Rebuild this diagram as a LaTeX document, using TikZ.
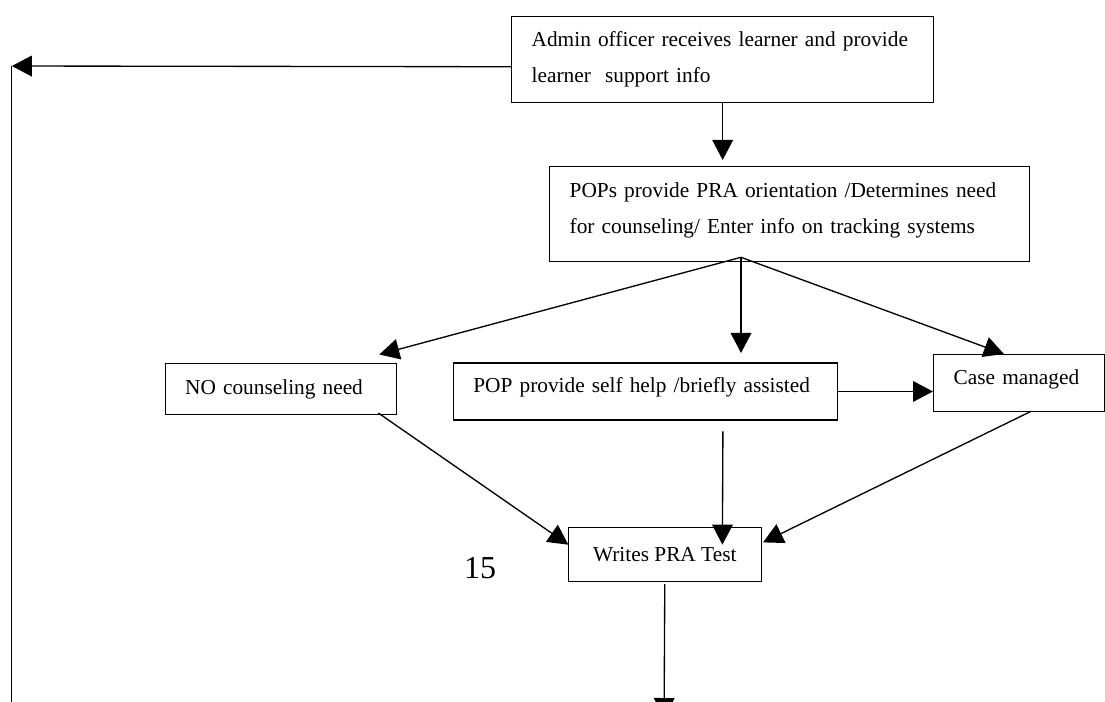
\documentclass[tikz,border=0pt]{standalone}
\usepackage{fontspec}
\setmainfont{Liberation Serif}
\usetikzlibrary{arrows.meta}
\begin{document}
\begin{tikzpicture}[x=0.75pt,y=-0.75pt,
  box/.style={draw, line width=1pt, align=left, inner xsep=15pt, inner ysep=3pt,
    anchor=north west, font=\fontsize{16}{27}\selectfont},
  conn/.style={line width=1pt},
  arr/.style={conn, -{Triangle[length=15pt,width=15.5pt]}}]
\useasboundingbox (0,0) rectangle (1105,701);
\clip (0,0) rectangle (1105,701);
% boxes
\node[box, text width=286.5pt, minimum height=64.3pt] (admin) at (511,16)
  {Admin officer receives learner and provide\\learner\ \ support info};
\node[box, text width=330pt, minimum height=71.5pt, text depth=35.5pt] (pops) at (549,165.7)
  {POPs provide PRA orientation /Determines need\\for counseling/ Enter info on tracking systems};
\node[box, text width=143.6pt, minimum height=38.6pt] (none) at (164.5,362.5)
  {NO counseling need};
\node[box, text width=258.2pt, minimum height=42.75pt, text depth=9.5pt] (self) at (452.7,362.3)
  {POP provide self help /briefly assisted};
\node[box, text width=97.9pt, minimum height=42.75pt, text depth=9.5pt] (case) at (933,354)
  {Case managed};
\node[box, align=center, inner xsep=0pt, minimum width=144.6pt, minimum height=40.5pt] (test) at (567.7,526.7)
  {Writes PRA Test};
\node[font=\fontsize{24}{28}\selectfont] (page) at (480,568) {15};
% coordinates
\coordinate (lt) at (11.8,66);
\coordinate (lb) at (11.8,710);
\coordinate (apex) at (741,257.3);
\coordinate (bot) at (664.1,718);
% connectors
\draw[arr] ([yshift=-5.4pt]admin.west) -- (lt);
\draw[conn] (lt) -- (lb);
\draw[arr] (admin.south) -- ([yshift=4.3pt]admin.south |- pops.north);
\draw[arr] (apex) -- ([shift={(-18,-8)}]none.north east);
\draw[arr] (apex) -- ([yshift=7pt]apex |- self.north);
\draw[arr] (apex) -- ([shift={(-15,0)}]case.north);
\draw[arr] (self.east) -- (self.east -| case.west);
\draw[arr] ([shift={(-19,-2.3)}]none.south east) -- ([shift={(0.6,-9.7)}]test.west);
\draw[arr] ([shift={(77.4,10.7)}]self.south) -- ([shift={(57.6,-9.7)}]test.center);
\draw[arr] ([shift={(12,-1)}]case.south) -- ([shift={(1.2,-12)}]test.east);
\draw[arr] ([yshift=-1.5pt]test.south) -- (bot);
\end{tikzpicture}
\end{document}
